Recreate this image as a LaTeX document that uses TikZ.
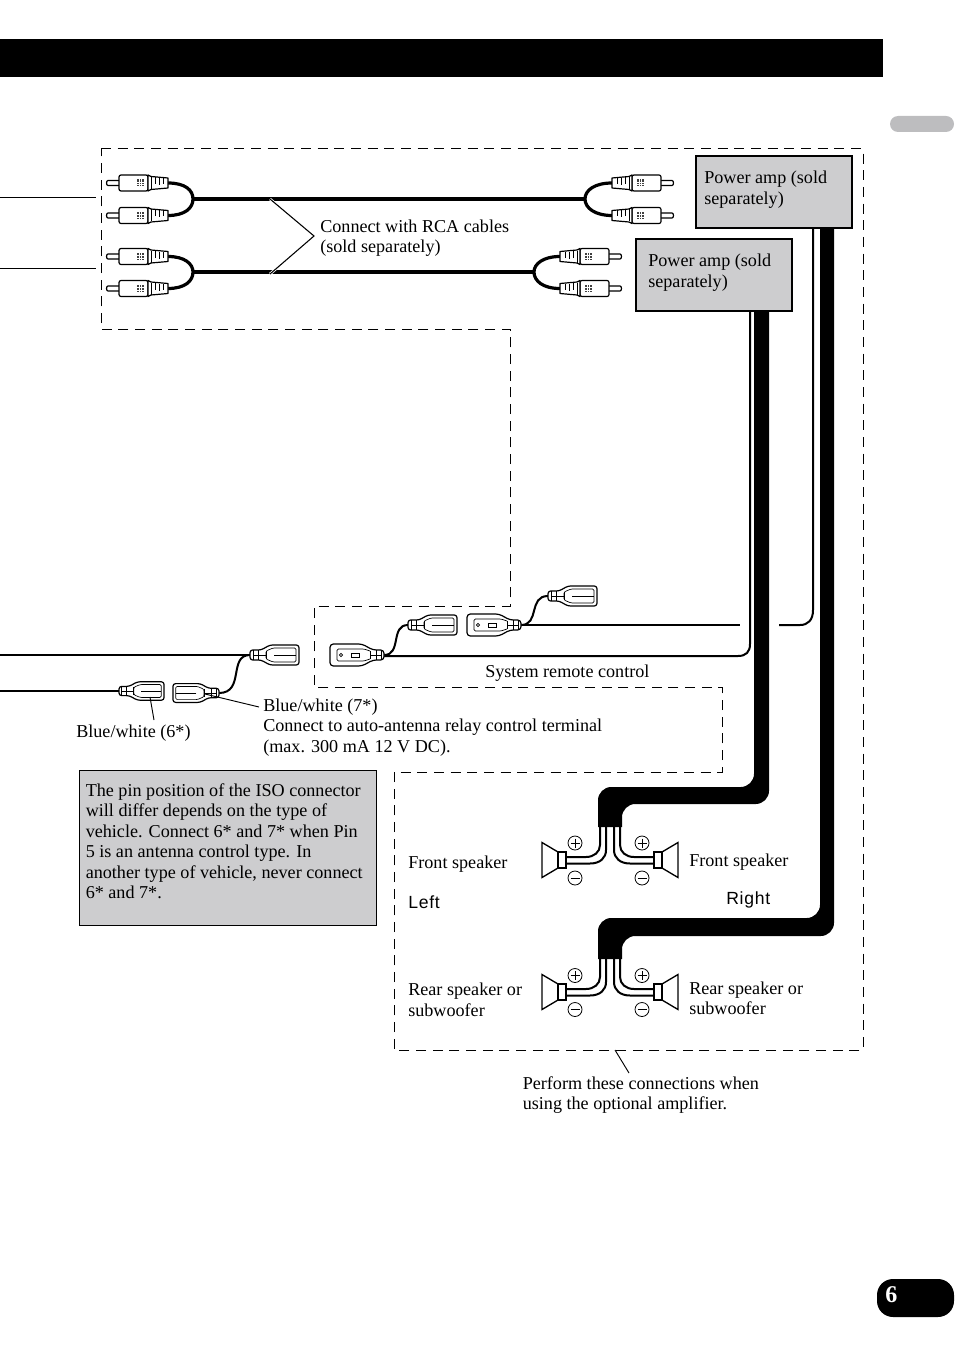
\documentclass[tikz,border=0pt]{standalone}
\usepackage{fontspec}
\setmainfont{Liberation Serif}
\newfontfamily\labelsans[LetterSpace=4]{Liberation Sans}
\definecolor{panelgray}{HTML}{CDCDCF}
\definecolor{tabgray}{HTML}{BDBDBF}
\tikzset{
  boundary/.style={line width=0.75pt,dash pattern=on 7.5pt off 5pt},
  lbl/.style={anchor=north west,inner sep=0pt,align=left,font=\fontsize{13.6}{15.4}\selectfont},
  panel/.style={anchor=north west,draw=black,fill=panelgray,inner sep=0pt,line width=1.5pt},
  wire/.style={line width=1.5pt},
  rcawire/.style={line width=2.4pt},
  thinlead/.style={line width=0.7pt},
  partline/.style={line width=0.9pt,fill=white,line join=round},
  rcaplug/.pic={
    \fill[black] (-3,-3.5) rectangle (0,3.5);
    \draw[partline] (-49,-2.5) -- (-60,-2.5) to[out=180,in=180] (-60,2.5) -- (-49,2.5);
    \draw[partline,rounded corners=1.5] (-20,-8) -- (-49,-8) -- (-49,8) -- (-20,8) -- cycle;
    \draw[partline] (-20,-8) -- (-17,-6.5) -- (0,-5) -- (0,5) -- (-17,6.5) -- (-20,8) -- cycle;
    \draw[line width=0.5pt] (-13,-5.5) -- (-13,1) (-9,-5) -- (-9,2) (-5,-5) -- (-5,1) (-17,-6) -- (-17,6);
    \fill[black!75] (-31.5,-3.5) rectangle (-24.5,3.5);
    \draw[white,line width=0.15pt] (-29,-3.5) -- (-29,3.5) (-27,-3.5) -- (-27,3.5) (-31.5,-1.2) -- (-24.5,-1.2) (-31.5,1.2) -- (-24.5,1.2);
  },
  isospade/.pic={
    \draw[partline,rounded corners=2] (0,-5) -- (11,-5) -- (20,-10) -- (49,-10) -- (49,10) -- (20,10) -- (11,5) -- (0,5) -- cycle;
    \draw[line width=0.5pt] (3,-5) -- (3,5) (8,-5) -- (8,5) (3,0) -- (16,0) (16,-4) -- (16,4);
    \draw[line width=0.5pt,rounded corners=1] (23,-7) -- (46,-7) -- (46,7) -- (23,7) -- (16,4) -- (16,-4) -- cycle;
    \draw[line width=0.5pt] (24,0) -- (46,0);
  },
  isotab/.pic={
    \draw[partline,rounded corners=2.5] (0,-5) -- (-11,-5) -- (-22,-11) -- (-54,-11) -- (-54,11) -- (-22,11) -- (-11,5) -- (0,5) -- cycle;
    \draw[line width=0.5pt] (-3,-5) -- (-3,5) (-8,-5) -- (-8,5) (-3,0) -- (-14,0) (-14,-4) -- (-14,4);
    \draw[line width=0.5pt,rounded corners=1] (-14,-4) -- (-20,-6) -- (-47,-6) -- (-47,6) -- (-20,6) -- (-14,4);
    \draw[line width=0.5pt] (-43,0) circle [radius=1.6];
    \draw[line width=0.5pt] (-33,-2) rectangle (-25,2);
  },
  speaker/.pic={
    \draw[line width=1pt,fill=white,line join=miter] (0,-8) -- (-16,-17.5) -- (-16,17.5) -- (0,8) -- cycle;
    \draw[line width=1pt,fill=white] (0,-8) rectangle (8,8);
  },
  plusmark/.pic={
    \draw[line width=0.6pt] (0,0) circle [radius=7];
    \draw[line width=0.6pt] (-4.5,0) -- (4.5,0) (0,-4.5) -- (0,4.5);
  },
  minusmark/.pic={
    \draw[line width=0.6pt] (0,0) circle [radius=7];
    \draw[line width=0.6pt] (-4.5,0) -- (4.5,0);
  }
}
\begin{document}
\begin{tikzpicture}[x=0.75pt,y=-0.75pt]
  \useasboundingbox (0,0) rectangle (954,1355);
  \fill[black] (0,39) rectangle (883,77);
  \fill[tabgray,rounded corners=6] (954,116) -- (890,116) -- (890,132) -- (954,132) -- cycle;
  \fill[black,rounded corners=12] (954,1279) -- (877,1279) -- (877,1317) -- (954,1317) -- cycle;
  \node[lbl,white,font=\fontsize{18}{18}\bfseries\selectfont] (pagenum) at (885,1286) {6};

  \draw[boundary] (101,149) -- (863,149) -- (863,1050) -- (394,1050) -- (394,772) -- (722,772) -- (722,687) -- (314,687) -- (314,606) -- (510,606) -- (510,329) -- (101,329) -- cycle;

  % rca cables
  \coordinate (leadA) at (0,197);
  \coordinate (leadAend) at (96,197);
  \coordinate (leadB) at (0,268);
  \coordinate (leadBend) at (96,268);
  \draw[thinlead] (leadA) -- (leadAend);
  \draw[thinlead] (leadB) -- (leadBend);
  \coordinate (rcaLa) at (168,183);
  \coordinate (rcaLb) at (168,215.5);
  \coordinate (rcaLc) at (168,256.5);
  \coordinate (rcaLd) at (168,288.5);
  \coordinate (rcaRa) at (612,183);
  \coordinate (rcaRb) at (612,215.5);
  \coordinate (rcaRc) at (560,256.5);
  \coordinate (rcaRd) at (560,288.5);
  \coordinate (forkLa) at (193,199);
  \coordinate (forkLb) at (193,272);
  \coordinate (forkRa) at (585,199);
  \coordinate (forkRb) at (534,272);
  \draw[rcawire] (rcaLa) .. controls (185,183) and (193,190) .. (forkLa) .. controls (193,208) and (185,215.5) .. (rcaLb);
  \draw[rcawire] (rcaLc) .. controls (185,256.5) and (193,264) .. (forkLb) .. controls (193,281) and (185,288.5) .. (rcaLd);
  \draw[rcawire] (rcaRa) .. controls (595,183) and (585,190) .. (forkRa) .. controls (585,208) and (595,215.5) .. (rcaRb);
  \draw[rcawire] (rcaRc) .. controls (543,256.5) and (534,264) .. (forkRb) .. controls (534,281) and (543,288.5) .. (rcaRd);
  \draw[rcawire] (forkLa) -- (forkRa);
  \draw[rcawire] (forkLb) -- (forkRb);
  \pic at (rcaLa) {rcaplug};
  \pic at (rcaLb) {rcaplug};
  \pic at (rcaLc) {rcaplug};
  \pic at (rcaLd) {rcaplug};
  \pic[xscale=-1] at (rcaRa) {rcaplug};
  \pic[xscale=-1] at (rcaRb) {rcaplug};
  \pic[xscale=-1] at (rcaRc) {rcaplug};
  \pic[xscale=-1] at (rcaRd) {rcaplug};

  \node[lbl] (rcalabel) at (320,219.5) {Connect with RCA cables\\(sold separately)};
  \coordinate (braceTop) at (270,199);
  \coordinate (braceTip) at (314,236);
  \coordinate (braceBot) at (270,274);
  \draw[white,line width=2pt] (braceTop) -- (braceTip) -- (braceBot);
  \draw[line width=0.8pt] (braceTop) -- (braceTip) -- (braceBot);

  % amplifier outputs
  \coordinate (ampAthin) at (813,228);
  \coordinate (ampBthin) at (750,311);
  \coordinate (remoteB) at (384,656);
  \coordinate (remoteD) at (523,625);
  \coordinate (remoteDend) at (740,625);
  \coordinate (remoteE) at (779,625);
  \draw[wire] (ampAthin) -- (813,610) .. controls (813,620) and (808,625) .. (800,625) -- (remoteE);
  \draw[wire] (ampBthin) -- (750,644) .. controls (750,652) and (746,656) .. (738,656) -- (remoteB);
  \draw[wire] (remoteD) -- (remoteDend);
  \fill[black] (754,311) [rounded corners=10] -- (754,787) -- (598,787) [sharp corners] -- (598,827) -- (622,827) [rounded corners=10] -- (622,804) -- (769,804) [sharp corners] -- (769,311) -- cycle;
  \fill[black] (820,228) [rounded corners=10] -- (820,918) -- (598,918) [sharp corners] -- (598,959) -- (622,959) [rounded corners=10] -- (622,936) -- (834,936) [sharp corners] -- (834,228) -- cycle;

  \node[panel,minimum width=117.5pt,minimum height=53.75pt] (ampA) at (694.5,155) {};
  \node[panel,minimum width=117.5pt,minimum height=53.75pt] (ampB) at (634.5,238) {};
  \node[lbl] (ampAtext) at (704,171) {Power amp (sold\\separately)};
  \node[lbl] (ampBtext) at (648,254) {Power amp (sold\\separately)};

  % iso leads
  \coordinate (isoA) at (384,655);
  \coordinate (isoB) at (408,625);
  \coordinate (isoC) at (521,625);
  \coordinate (isoD) at (548,596);
  \coordinate (isoE) at (250,655);
  \coordinate (isoF) at (119,691);
  \coordinate (isoG) at (219,693);
  \coordinate (leadE) at (0,655);
  \coordinate (leadF) at (0,691);
  \draw[wire] (leadE) -- (isoE);
  \draw[wire] (leadF) -- (isoF);
  \draw[wire] (isoA) .. controls (402,655) and (390,625) .. (isoB);
  \draw[wire] (isoC) .. controls (540,625) and (528,596) .. (isoD);
  \draw[wire] (isoG) .. controls (245,693) and (228,655) .. (isoE);
  \pic at (isoA) {isotab};
  \pic at (isoB) {isospade};
  \pic at (isoC) {isotab};
  \pic at (isoD) {isospade};
  \pic at (isoE) {isospade};
  \pic[scale=0.92] at (isoF) {isospade};
  \pic[xscale=-0.94,yscale=0.94] at (isoG) {isospade};
  \node[lbl] (remotelabel) at (485,665) {System remote control};
  \node[lbl] (bluesix) at (76,725) {Blue/white (6*)};
  \node[lbl] (blueseven) at (263,698.5) {Blue/white (7*)\\Connect to auto-antenna relay control terminal\\(max. 300 mA 12 V DC).};
  \coordinate (sixTip) at (150,697);
  \coordinate (sevenTip) at (205,694);
  \draw[thinlead] (sixTip) -- (154,720);
  \draw[thinlead] (sevenTip) -- (259,707);

  % note
  \node[panel,line width=0.6pt,minimum width=222.75pt,minimum height=116.5pt] (notebox) at (79,770) {};
  \node[lbl] (notetext) at (85.5,783) {The pin position of the ISO connector\\will differ depends on the type of\\vehicle. Connect 6* and 7* when Pin\\5 is an antenna control type. In\\another type of vehicle, never connect\\6* and 7*.};

  % speakers
  \coordinate (spkFL) at (558,860);
  \coordinate (spkFR) at (662,860);
  \coordinate (spkRL) at (558,992);
  \coordinate (spkRR) at (662,992);
  \draw[wire] (600,826) -- (600,845) .. controls (600,852) and (594,857) .. (586,857) -- (560,857);
  \draw[wire] (606,826) -- (606,850) .. controls (606,858) and (600,863.5) .. (590,863.5) -- (560,863.5);
  \draw[wire] (620,826) -- (620,845) .. controls (620,852) and (626,857) .. (634,857) -- (660,857);
  \draw[wire] (614,826) -- (614,850) .. controls (614,858) and (620,863.5) .. (630,863.5) -- (660,863.5);
  \draw[wire] (600,958) -- (600,977) .. controls (600,984) and (594,989) .. (586,989) -- (560,989);
  \draw[wire] (606,958) -- (606,982) .. controls (606,990) and (600,995.5) .. (590,995.5) -- (560,995.5);
  \draw[wire] (620,958) -- (620,977) .. controls (620,984) and (626,989) .. (634,989) -- (660,989);
  \draw[wire] (614,958) -- (614,982) .. controls (614,990) and (620,995.5) .. (630,995.5) -- (660,995.5);
  \pic at (spkFL) {speaker};
  \pic[xscale=-1] at (spkFR) {speaker};
  \pic at (spkRL) {speaker};
  \pic[xscale=-1] at (spkRR) {speaker};
  \pic at (575,843) {plusmark};
  \pic at (642,843) {plusmark};
  \pic at (575,878) {minusmark};
  \pic at (642,878) {minusmark};
  \pic at (575,975.5) {plusmark};
  \pic at (642,975.5) {plusmark};
  \pic at (575,1009.5) {minusmark};
  \pic at (642,1009.5) {minusmark};

  \node[lbl] (frontL) at (408,856) {Front speaker};
  \node[lbl] (frontR) at (689,853.5) {Front speaker};
  \node[lbl,font=\labelsans\fontsize{13.2}{15}\selectfont] (leftlabel) at (408,895.5) {Left};
  \node[lbl,font=\labelsans\fontsize{13.2}{15}\selectfont] (rightlabel) at (726,891.5) {Right};
  \node[lbl] (rearL) at (408,983) {Rear speaker or\\subwoofer};
  \node[lbl] (rearR) at (689,981.5) {Rear speaker or\\subwoofer};
  \node[lbl] (performtext) at (522.5,1076) {Perform these connections when\\using the optional amplifier.};
  \coordinate (performTip) at (615,1050);
  \coordinate (performEnd) at (629,1073);
  \draw[thinlead] (performTip) -- (performEnd);
\end{tikzpicture}
\end{document}
